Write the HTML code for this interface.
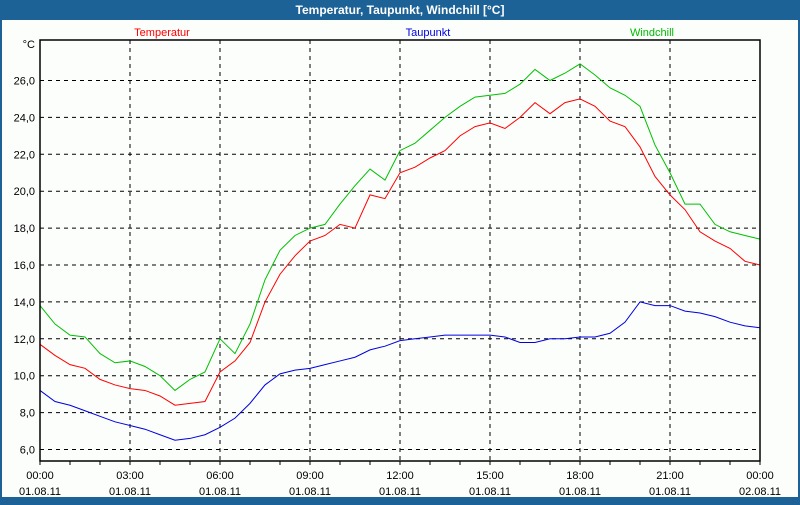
<!DOCTYPE html>
<html><head><meta charset="utf-8"><style>
body{margin:0;width:800px;height:500px;overflow:hidden;background:#1d6296;font-family:"Liberation Sans",sans-serif}
</style></head><body>
<svg width="800" height="500" xmlns="http://www.w3.org/2000/svg" font-family="Liberation Sans, sans-serif">
<rect x="0" y="0" width="800" height="500" fill="#1d6296"/>
<rect x="2" y="20" width="796" height="477" fill="#fcfefc"/>
<text x="400" y="14" text-anchor="middle" fill="#fff" font-size="12" font-weight="bold">Temperatur, Taupunkt, Windchill [°C]</text>
<text x="162" y="36" text-anchor="middle" fill="#ff0000" font-size="11">Temperatur</text>
<text x="428" y="36" text-anchor="middle" fill="#0000dd" font-size="11">Taupunkt</text>
<text x="652" y="36" text-anchor="middle" fill="#00bb00" font-size="11">Windchill</text>
<text x="35" y="48" text-anchor="end" font-size="11">°C</text>
<g id="grid"></g><g id="series"></g><g id="axes"></g>
</svg>
<script>
const hours=[];for(let i=0;i<=48;i++)hours.push(i*0.5);
const temperatur=[11.7,11.1,10.6,10.4,9.8,9.5,9.3,9.2,8.9,8.4,8.5,8.6,10.2,10.8,11.8,14.0,15.5,16.5,17.3,17.6,18.2,18.0,19.8,19.6,21.0,21.3,21.8,22.2,23.0,23.5,23.7,23.4,24.0,24.8,24.2,24.8,25.0,24.6,23.8,23.5,22.4,20.8,19.8,19.0,17.8,17.3,16.9,16.2,16.0];
const taupunkt=[9.2,8.6,8.4,8.1,7.8,7.5,7.3,7.1,6.8,6.5,6.6,6.8,7.2,7.7,8.5,9.5,10.1,10.3,10.4,10.6,10.8,11.0,11.4,11.6,11.9,12.0,12.1,12.2,12.2,12.2,12.2,12.1,11.8,11.8,12.0,12.0,12.1,12.1,12.3,12.9,14.0,13.8,13.8,13.5,13.4,13.2,12.9,12.7,12.6];
const windchill=[13.8,12.8,12.2,12.1,11.2,10.7,10.8,10.5,10.0,9.2,9.8,10.2,12.0,11.2,12.8,15.2,16.8,17.6,18.0,18.2,19.3,20.3,21.2,20.6,22.2,22.6,23.3,24.0,24.6,25.1,25.2,25.3,25.8,26.6,26.0,26.4,26.9,26.3,25.6,25.2,24.6,22.5,21.0,19.3,19.3,18.2,17.8,17.6,17.4];
const yTicks=[6,8,10,12,14,16,18,20,22,24,26];
const xTickHours=[0,3,6,9,12,15,18,21,24];
const xTickTimes=["00:00","03:00","06:00","09:00","12:00","15:00","18:00","21:00","00:00"];
const xTickDates=["01.08.11","01.08.11","01.08.11","01.08.11","01.08.11","01.08.11","01.08.11","01.08.11","02.08.11"];
const L=40,R=760,T=40,B=461;
const x=h=>L+h*(R-L)/24;
const y=v=>449.5-(v-6)*18.45;
const NS="http://www.w3.org/2000/svg";
function mk(tag,attrs,parent){const e=document.createElementNS(NS,tag);for(const k in attrs)e.setAttribute(k,attrs[k]);document.getElementById(parent).appendChild(e);return e;}
yTicks.forEach(v=>{
 const l=mk('line',{x1:L,x2:R,y1:y(v),y2:y(v),stroke:'#000','stroke-dasharray':'4,4'},'grid');
 
 
 const t=mk('text',{x:35,y:y(v)+4,'text-anchor':'end','font-size':11},'axes');
 t.textContent=v.toFixed(1).replace('.',',');
 
 
});
xTickHours.forEach((h,i)=>{
 if(h>0&&h<24){const l=mk('line',{x1:x(h),x2:x(h),y1:T,y2:B,stroke:'#000','stroke-dasharray':'4,4'},'grid');
 
 }
 const t=mk('text',{x:x(h),y:479,'text-anchor':'middle','font-size':11},'axes');
 t.textContent=xTickTimes[i];
 
 
 const d=mk('text',{x:x(h),y:495,'text-anchor':'middle','font-size':11},'axes');
 d.textContent=xTickDates[i];
 
 
});
for(let h=0;h<=24;h++){const m=mk('line',{x1:x(h),x2:x(h),y1:B,y2:B+4,stroke:'#000'},'axes');
 
 }
const frame=mk('rect',{x:L,y:T,width:R-L,height:B-T,fill:'none',stroke:'#000','stroke-width':1.5},'axes');


[[windchill,'#00c000','windchill-line'],[temperatur,'#ff0000','temperatur-line'],[taupunkt,'#0000e0','taupunkt-line']].forEach(([d,c,n])=>{
 const p=mk('polyline',{points:d.map((v,i)=>x(hours[i])+','+y(v)).join(' '),fill:'none',stroke:c,'stroke-width':1},'series');
 
 
});
</script>
</body></html>
